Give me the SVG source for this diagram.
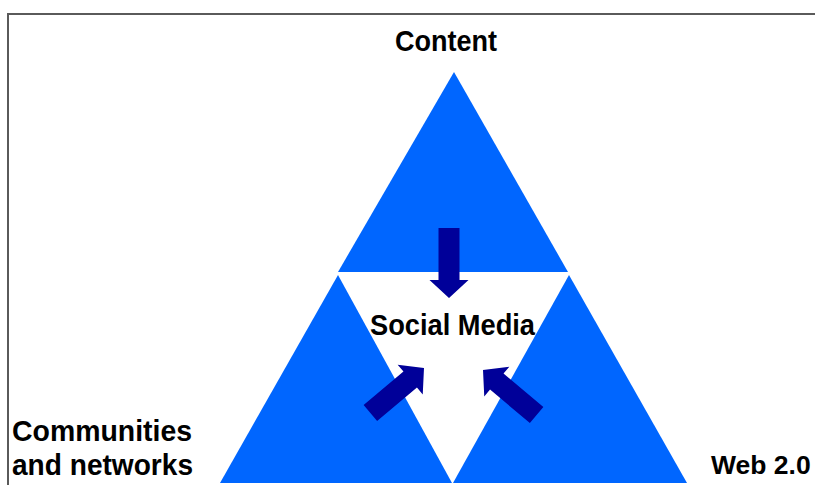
<svg xmlns="http://www.w3.org/2000/svg" width="815" height="485" viewBox="0 0 815 485">
  <style>
    .tri { fill: #0066FF; }
    .arr { fill: #000099; }
    .lbl { font-family: "Liberation Sans", Arial, sans-serif; font-weight: bold; font-size: 30px; fill: #000000; }
    .frame { stroke: #5a5a5a; stroke-width: 2; fill: none; }
  </style>
  <defs>
    <polygon id="arrowShape" points="-10.5,-70 10.5,-70 10.5,-18 19.5,-18 0,0 -19.5,-18 -10.5,-18"/>
  </defs>
  <rect width="815" height="485" fill="#ffffff"/>
  <path class="frame" d="M8,485 L8,14 L815,14"/>

  <g id="content">
    <polygon class="tri" points="454,72 338,272 568,272"/>
    <text class="lbl" x="395" y="51" textLength="102" lengthAdjust="spacingAndGlyphs">Content</text>
  </g>
  <g id="communities">
    <polygon class="tri" points="338,275 220,483 452,483"/>
    <text class="lbl" x="12" y="441" textLength="180" lengthAdjust="spacingAndGlyphs">Communities</text>
    <text class="lbl" x="12" y="475" textLength="181" lengthAdjust="spacingAndGlyphs">and networks</text>
  </g>
  <g id="web20">
    <polygon class="tri" points="569,275 453,483 687,483"/>
    <text class="lbl" x="711" y="474" style="font-size:26.5px">Web 2.0</text>
  </g>
  <g id="social-media">
    <text class="lbl" x="370" y="335" textLength="165" lengthAdjust="spacingAndGlyphs">Social Media</text>
  </g>

  <g id="connectors">
    <use href="#arrowShape" class="arr" transform="translate(449,298)"/>
    <use href="#arrowShape" class="arr" transform="translate(424,368) rotate(-130)"/>
    <use href="#arrowShape" class="arr" transform="translate(483,370) rotate(130)"/>
  </g>
</svg>
